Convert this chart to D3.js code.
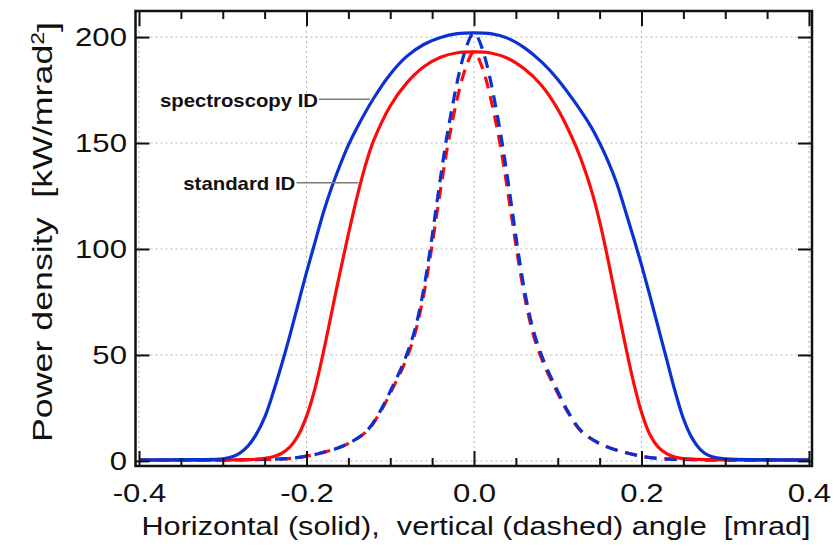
<!DOCTYPE html>
<html><head><meta charset="utf-8">
<script src="https://cdn.jsdelivr.net/npm/d3@7/dist/d3.min.js"></script>
<style>
html,body{margin:0;padding:0;background:#fff;}
svg{display:block;}
text{font-family:"Liberation Sans",Arial,Helvetica,sans-serif;fill:#111;white-space:pre;}
</style></head><body>
<svg id="chart" width="834" height="547"></svg>
<script>
// ---- data ----
// horizontal profile, spectroscopy ID (blue solid)
const specHorizX = [-0.40,-0.35,-0.30,-0.290,-0.280,-0.270,-0.260,-0.250,-0.240,-0.230,-0.220,-0.210,-0.200,-0.190,-0.180,-0.170,-0.160,-0.150,-0.140,-0.120,-0.100,-0.080,-0.060,-0.040,-0.020,0.000,0.020,0.040,0.060,0.080,0.100,0.120,0.140,0.150,0.160,0.170,0.180,0.190,0.200,0.210,0.220,0.230,0.240,0.250,0.260,0.270,0.280,0.290,0.300,0.350,0.40];
const specHorizY = [0.5,0.6,1.0,1.8,3.6,7.0,12.5,20.5,32,45,59,74,89,103,117,129,139.5,149,157,171,182.5,191,196.5,199.8,201.6,202,201.6,199.5,195,188.5,180,169.5,157.5,150,141.5,131.5,119,106,92.5,78,63,48,33,20,11,5.5,2.6,1.5,1.0,0.6,0.5];
// horizontal profile, standard ID (red solid)
const stdHorizX = [-0.40,-0.30,-0.260,-0.250,-0.240,-0.230,-0.220,-0.210,-0.200,-0.190,-0.180,-0.170,-0.160,-0.150,-0.140,-0.130,-0.120,-0.100,-0.080,-0.060,-0.040,-0.020,0.000,0.020,0.040,0.060,0.080,0.100,0.120,0.130,0.140,0.150,0.160,0.170,0.180,0.190,0.200,0.210,0.220,0.230,0.240,0.250,0.260,0.300,0.40];
const stdHorizY = [0.4,0.5,0.8,1.2,2.0,3.5,6.5,12,21,34,51,70,89,107,124,139,151,167.5,178.5,186,190.5,192.6,193,192.5,190,185,177.5,166,150,140,128,113,95,75.5,56,38,23,12.5,6.5,3.4,1.8,1.1,0.8,0.5,0.4];
// vertical profile, spectroscopy ID (blue dashed)
const specVertX = [-0.40,-0.30,-0.267,-0.216,-0.184,-0.152,-0.128,-0.112,-0.098,-0.084,-0.072,-0.062,-0.053,-0.045,-0.038,-0.032,-0.026,-0.020,-0.014,-0.009,-0.005,-0.002,0.000,0.002,0.005,0.009,0.014,0.020,0.026,0.032,0.038,0.045,0.053,0.062,0.072,0.084,0.098,0.112,0.128,0.152,0.184,0.216,0.267,0.30,0.40];
const specVertY = [0.3,0.4,0.6,1.3,3.6,7.8,14.2,23.5,34.5,46.5,60,77,98,120,139,154,167,179,189,195.5,199.5,201.3,201.7,201.3,199.5,195.5,189,179,167,154,139,120,98,77,60,46.5,34.5,23.5,14.2,7.8,3.6,1.3,0.6,0.4,0.3];
// vertical profile, standard ID (red dashed)
const stdVertX = [-0.40,-0.30,-0.267,-0.216,-0.184,-0.152,-0.128,-0.112,-0.098,-0.084,-0.072,-0.062,-0.053,-0.045,-0.038,-0.032,-0.026,-0.020,-0.014,-0.009,-0.005,-0.002,0.000,0.002,0.005,0.009,0.014,0.020,0.026,0.032,0.038,0.045,0.053,0.062,0.072,0.084,0.098,0.112,0.128,0.152,0.184,0.216,0.267,0.30,0.40];
const stdVertY = [0.3,0.4,0.6,1.3,3.6,7.8,14,23,33.5,45,58,74.5,94.5,115,133,147.5,160,171,180.5,186.5,190.5,192.5,193,192.5,190.5,186.5,180.5,171,160,147.5,133,115,94.5,74.5,58,45,33.5,23,14,7.8,3.6,1.3,0.6,0.4,0.3];

const xMajorTicks = [-0.4,-0.2,0.0,0.2,0.4];
const xMinorTicks = [-0.35,-0.3,-0.25,-0.15,-0.1,-0.05,0.05,0.1,0.15,0.25,0.3,0.35];
const yTicks = [0,50,100,150,200];
const xTickLabels = ["-0.4","-0.2","0.0","0.2","0.4"];
const yTickLabels = ["0","50","100","150","200"];
const seriesNames = ["spectroscopy ID","standard ID"];

// ---- layout ----
const svg = d3.select("#chart");
const L=135.5, R=812, T=11, B=466;
const x = d3.scaleLinear().domain([-0.4042,0.4036]).range([L,R]);
const y = d3.scaleLinear().domain([-2.4,212.3]).range([B,T]);

// grid
const grid = svg.append("g").attr("stroke","#b4b4b4").attr("stroke-width",1).attr("stroke-dasharray","2,3");
grid.selectAll("line.gx").data(xMajorTicks).join("line").attr("class","gx")
  .attr("x1",d=>x(d)).attr("x2",d=>x(d)).attr("y1",T).attr("y2",B);
grid.selectAll("line.gy").data(yTicks).join("line").attr("class","gy")
  .attr("x1",L).attr("x2",R).attr("y1",d=>y(d)).attr("y2",d=>y(d));

// curves
const line = d3.line().x(d=>x(d[0])).y(d=>y(d[1])).curve(d3.curveCatmullRom.alpha(0.5));
const zip = (a,b)=>a.map((v,i)=>[v,b[i]]);
const BLUE="#0a32d2", RED="#ff0a0a";
const plot = svg.append("g").attr("fill","none").attr("stroke-width",3.2).attr("stroke-linejoin","round");
plot.append("path").attr("d",line(zip(stdVertX,stdVertY))).attr("stroke",RED).attr("stroke-dasharray","12,8");
plot.append("path").attr("d",line(zip(specVertX,specVertY))).attr("stroke",BLUE).attr("stroke-dasharray","12,8").attr("stroke-dashoffset",4);
plot.append("path").attr("d",line(zip(stdHorizX,stdHorizY))).attr("stroke",RED);
plot.append("path").attr("d",line(zip(specHorizX,specHorizY))).attr("stroke",BLUE);

// axes (ticks inward)
const tickStyle = g=>{ g.select(".domain").remove(); g.selectAll("line").attr("stroke","#111").attr("stroke-width",2); };
svg.append("g").attr("transform",`translate(0,${B})`)
  .call(d3.axisBottom(x).tickValues(xMinorTicks).tickSize(-8).tickFormat("")).call(tickStyle);
svg.append("g").attr("transform",`translate(0,${T})`)
  .call(d3.axisTop(x).tickValues(xMinorTicks).tickSize(-8).tickFormat("")).call(tickStyle);
svg.append("g").attr("transform",`translate(0,${T})`)
  .call(d3.axisTop(x).tickValues(xMajorTicks).tickSize(-15).tickFormat("")).call(tickStyle);
svg.append("g").attr("transform",`translate(${R},0)`)
  .call(d3.axisRight(y).tickValues(yTicks).tickSize(-14).tickFormat("")).call(tickStyle);

const xb = svg.append("g").attr("transform",`translate(0,${B})`)
  .call(d3.axisBottom(x).tickValues(xMajorTicks).tickSize(-15).tickPadding(17.5)
    .tickFormat((d,i)=>xTickLabels[i])).call(tickStyle);
xb.selectAll("text").attr("font-size",25.5).attr("fill","#111").attr("transform","scale(1.22,1)")
  .style("font-family",'"Liberation Sans",Arial,sans-serif');

const yl = svg.append("g").attr("transform",`translate(${L},0)`)
  .call(d3.axisLeft(y).tickValues(yTicks).tickSize(-14).tickPadding(7)
    .tickFormat((d,i)=>yTickLabels[i])).call(tickStyle);
yl.selectAll("text").attr("font-size",25.5).attr("fill","#111").attr("transform","scale(1.22,1)")
  .style("font-family",'"Liberation Sans",Arial,sans-serif');

// frame
svg.append("rect").attr("x",L).attr("y",T).attr("width",R-L).attr("height",B-T)
  .attr("fill","none").attr("stroke","#111").attr("stroke-width",2.5);

// titles
svg.append("text").attr("x",141.5).attr("y",535).attr("font-size",25.6)
  .attr("textLength",669).attr("lengthAdjust","spacingAndGlyphs")
  .text("Horizontal (solid),  vertical (dashed) angle  [mrad]");

const yt = svg.append("text").attr("transform","translate(52,442) rotate(-90)").attr("font-size",28)
  .attr("textLength",420).attr("lengthAdjust","spacingAndGlyphs");
yt.append("tspan").text("Power density  [kW/mrad");
yt.append("tspan").attr("dy","-0.45em").attr("font-size",18).text("2");
yt.append("tspan").attr("dy","0.45em").text("]");

// series labels with leader lines
const lab = [
  {name:seriesNames[0], tx:160, ty:106.7, w:158, lx1:319, lx2:370, ly:99.3},
  {name:seriesNames[1], tx:183.3, ty:190, w:112, lx1:296.5, lx2:358.5, ly:182.7}
];
svg.selectAll("line.lead").data(lab).join("line").attr("class","lead")
  .attr("x1",d=>d.lx1).attr("x2",d=>d.lx2).attr("y1",d=>d.ly).attr("y2",d=>d.ly)
  .attr("stroke","#7a7a7a").attr("stroke-width",1.6);
svg.selectAll("text.lab").data(lab).join("text").attr("class","lab")
  .attr("x",d=>d.tx).attr("y",d=>d.ty).attr("font-size",18.6).attr("font-weight","bold")
  .attr("textLength",d=>d.w).attr("lengthAdjust","spacingAndGlyphs").text(d=>d.name);
</script>
</body></html>
